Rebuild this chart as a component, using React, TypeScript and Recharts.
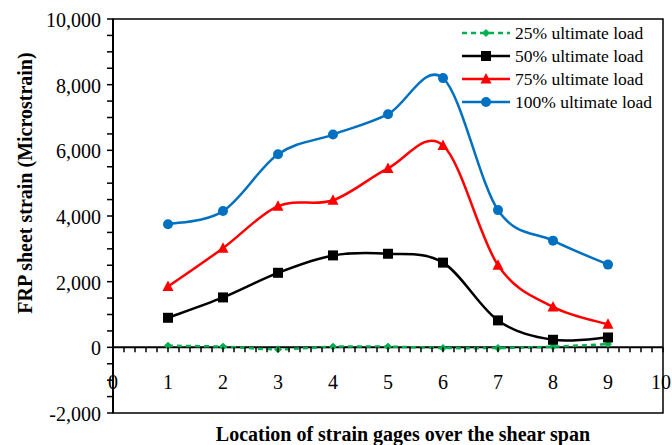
import React from 'react';
import { LineChart, Line, XAxis, YAxis, ReferenceLine, ReferenceArea } from 'recharts';

// ---- data ----
const gagePositions = [1, 2, 3, 4, 5, 6, 7, 8, 9];
const load25 = [50, 20, -60, 20, 20, -20, -20, 20, 100];
const load50 = [900, 1520, 2270, 2800, 2850, 2580, 820, 230, 300];
const load75 = [1850, 3020, 4300, 4480, 5450, 6150, 2500, 1230, 700];
const load100 = [3750, 4150, 5880, 6480, 7100, 8200, 4180, 3250, 2520];

const seriesNames = ['25% ultimate load', '50% ultimate load', '75% ultimate load', '100% ultimate load'];
const yMajorTicks = [-2000, 0, 2000, 4000, 6000, 8000, 10000];

const xTicks: number[] = [];
for (let i = 0; i <= 50; i++) xTicks.push(Math.round(i * 0.2 * 10) / 10);
const yTicks: number[] = [];
for (let v = -2000; v <= 10000; v += 500) yTicks.push(v);

const data = gagePositions.map((p, i) => ({
  x: p,
  s25: load25[i],
  s50: load50[i],
  s75: load75[i],
  s100: load100[i],
}));

// ---- layout ----
const W = 672;
const H = 445;
const MARGIN = { top: 19, right: 9, bottom: 0, left: 0 };
const X_AXIS_H = 32;
const Y_AXIS_W = 113;
const PLOT_LEFT = MARGIN.left + Y_AXIS_W;
const PLOT_TOP = MARGIN.top;
const PLOT_BOTTOM = H - MARGIN.bottom - X_AXIS_H;
const Y_MIN = -2000;
const Y_MAX = 10000;
const ZERO_Y = PLOT_TOP + ((PLOT_BOTTOM - PLOT_TOP) * (Y_MAX - 0)) / (Y_MAX - Y_MIN);
const FONT = "'Liberation Serif', serif";

const GREEN = '#00B050';
const BLACK = '#000000';
const RED = '#FF0000';
const BLUE = '#0070C0';

// Excel-like smoothed curve (Catmull-Rom as cubic Bezier)
const smoothCurve: any = (context: any) => {
  let xs: number[] = [];
  let ys: number[] = [];
  return {
    areaStart() {},
    areaEnd() {},
    lineStart() {
      xs = [];
      ys = [];
    },
    point(x: number, y: number) {
      xs.push(+x);
      ys.push(+y);
    },
    lineEnd() {
      const n = xs.length;
      if (!n) return;
      context.moveTo(xs[0], ys[0]);
      if (n === 1) return;
      const t = 1 / 6;
      for (let i = 0; i < n - 1; i++) {
        const i0 = Math.max(0, i - 1);
        const i3 = Math.min(n - 1, i + 2);
        const c1x = xs[i] + (xs[i + 1] - xs[i0]) * t;
        const c1y = ys[i] + (ys[i + 1] - ys[i0]) * t;
        const c2x = xs[i + 1] - (xs[i3] - xs[i]) * t;
        const c2y = ys[i + 1] - (ys[i3] - ys[i]) * t;
        context.bezierCurveTo(c1x, c1y, c2x, c2y, xs[i + 1], ys[i + 1]);
      }
    },
  };
};

// ---- markers ----
const Diamond = (cx: number, cy: number, color: string, key?: any) => (
  <path key={key} d={`M${cx},${cy - 3.5}L${cx + 3.5},${cy}L${cx},${cy + 3.5}L${cx - 3.5},${cy}Z`} fill={color} stroke={color} />
);
const Square = (cx: number, cy: number, color: string, key?: any) => (
  <rect key={key} x={cx - 5} y={cy - 5} width={10} height={10} fill={color} />
);
const Triangle = (cx: number, cy: number, color: string, key?: any) => (
  <path key={key} d={`M${cx},${cy - 6}L${cx + 5.5},${cy + 4.5}L${cx - 5.5},${cy + 4.5}Z`} fill={color} />
);
const Circle = (cx: number, cy: number, color: string, key?: any) => (
  <circle key={key} cx={cx} cy={cy} r={5} fill={color} />
);

const markerFns = [Diamond, Square, Triangle, Circle];
const colors = [GREEN, BLACK, RED, BLUE];
const dashes = ['5 4', undefined, undefined, undefined];

const makeDot = (idx: number) => (props: any) => {
  const { cx, cy, index } = props;
  if (cx == null || cy == null) return <g key={`d${idx}-${index}`} />;
  return markerFns[idx](cx, cy, colors[idx], `d${idx}-${index}`);
};

const tickTextStyle: React.CSSProperties = { fontFamily: FONT, fontSize: 20, fill: '#000' };

// ---- axis ticks ----
const XTick = (props: any) => {
  const { x, payload } = props;
  const v = payload.value;
  const isMajor = Math.abs(v - Math.round(v)) < 1e-6;
  return (
    <g>
      <line x1={x} y1={ZERO_Y} x2={x} y2={ZERO_Y + 5} stroke="#000" strokeWidth={1.5} />
      {isMajor && (
        <text x={Math.min(x, W - 11)} y={ZERO_Y + 42} textAnchor="middle" style={tickTextStyle}>
          {String(Math.round(v))}
        </text>
      )}
    </g>
  );
};

const YTick = (props: any) => {
  const { y, payload } = props;
  const v = payload.value;
  const isMajor = yMajorTicks.includes(v);
  return (
    <g>
      <line x1={PLOT_LEFT - 6} y1={y} x2={PLOT_LEFT} y2={y} stroke="#000" strokeWidth={1.5} />
      {isMajor && (
        <text x={PLOT_LEFT - 12} y={y + 8} textAnchor="end" style={tickTextStyle}>
          {v.toLocaleString('en-US')}
        </text>
      )}
    </g>
  );
};

const YTitle = () => {
  const cx = 25;
  const cy = 183;
  return (
    <text
      x={cx}
      y={cy}
      transform={`rotate(-90, ${cx}, ${cy})`}
      textAnchor="middle"
      dominantBaseline="central"
      style={{ fontFamily: FONT, fontSize: 20, fontWeight: 'bold', fill: '#000' }}
    >
      FRP sheet strain (Microstrain)
    </text>
  );
};

const XTitle = () => (
  <text x={403} y={441} textAnchor="middle" style={{ fontFamily: FONT, fontSize: 20, fontWeight: 'bold', fill: '#000' }}>
    Location of strain gages over the shear span
  </text>
);

const LegendBox = () => (
  <svg width={205} height={100} style={{ display: 'block' }}>
    {seriesNames.map((name, i) => {
      const cy = 13 + i * 23;
      return (
        <g key={name}>
          <line x1={2} y1={cy} x2={50} y2={cy} stroke={colors[i]} strokeWidth={2.5} strokeDasharray={dashes[i]} />
          {markerFns[i](26, cy, colors[i])}
          <text x={55} y={cy + 6} style={{ fontFamily: FONT, fontSize: 17.5, fill: '#000' }}>
            {name}
          </text>
        </g>
      );
    })}
  </svg>
);

export default function App() {
  const keys = ['s25', 's50', 's75', 's100'];
  return (
    <div style={{ position: 'absolute', left: 0, top: 0, width: W, height: H, background: '#fff' }}>
      <LineChart width={W} height={H} data={data} margin={MARGIN}>
        <XAxis
          dataKey="x"
          type="number"
          domain={[0, 10]}
          ticks={xTicks}
          interval={0}
          axisLine={false}
          tickLine={false}
          tick={<XTick />}
          height={X_AXIS_H}
          label={<XTitle />}
          allowDataOverflow
        />
        <YAxis
          type="number"
          domain={[Y_MIN, Y_MAX]}
          ticks={yTicks}
          interval={0}
          width={Y_AXIS_W}
          axisLine={{ stroke: '#000', strokeWidth: 2 }}
          tickLine={false}
          tick={<YTick />}
          label={<YTitle />}
          allowDataOverflow
        />
        <ReferenceArea
          x1={0}
          x2={10}
          y1={Y_MIN}
          y2={Y_MAX}
          fill="none"
          stroke="#000"
          strokeWidth={1.5}
          ifOverflow="visible"
        />
        <ReferenceLine y={0} stroke="#000" strokeWidth={2} />
        {keys.map((k, i) => (
          <Line
            key={k}
            dataKey={k}
            name={seriesNames[i]}
            type={smoothCurve}
            stroke={colors[i]}
            strokeWidth={2.5}
            strokeDasharray={dashes[i]}
            dot={makeDot(i)}
            activeDot={false}
            isAnimationActive={false}
          />
        ))}
      </LineChart>
      <div style={{ position: 'absolute', left: 460, top: 20 }}>
        <LegendBox />
      </div>
    </div>
  );
}
